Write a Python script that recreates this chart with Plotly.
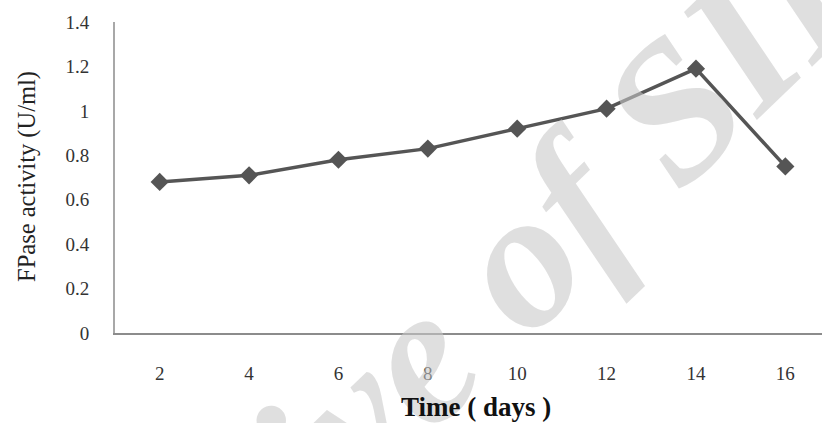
import plotly.graph_objects as go

days = ["2", "4", "6", "8", "10", "12", "14", "16"]
fpase_activity = [0.68, 0.71, 0.78, 0.83, 0.92, 1.01, 1.19, 0.75]
y_tick_values = [0, 0.2, 0.4, 0.6, 0.8, 1.0, 1.2, 1.4]
y_tick_labels = ["0", "0.2", "0.4", "0.6", "0.8", "1", "1.2", "1.4"]

serif = "Liberation Serif, Times New Roman, serif"

fig = go.Figure()
fig.add_trace(go.Scatter(
    x=days, y=fpase_activity, mode="lines+markers",
    line=dict(color="#555555", width=3.5),
    marker=dict(symbol="diamond", size=14, color="#555555"),
    showlegend=False, hoverinfo="skip",
))

fig.update_layout(
    width=822, height=423,
    margin=dict(l=115, r=0, t=22, b=90),
    paper_bgcolor="white", plot_bgcolor="white",
    xaxis=dict(
        type="category", range=[-0.5, 7.41],
        showline=True, linecolor="#8c8c8c", linewidth=1.5,
        showgrid=False, zeroline=False, ticks="",
        ticklabelstandoff=22,
        tickfont=dict(family=serif, size=19, color="#333333"),
    ),
    yaxis=dict(
        range=[0, 1.4], tickvals=y_tick_values, ticktext=y_tick_labels,
        showline=True, linecolor="#a8a8a8", linewidth=2,
        showgrid=False, zeroline=False, ticks="",
        ticklabelstandoff=20,
        tickfont=dict(family=serif, size=19, color="#333333"),
    ),
    annotations=[
        dict(text="<b><i>Archive of SID</i></b>", xref="paper", yref="paper",
             x=0.441, y=-0.045, textangle=-44, showarrow=False,
             xanchor="center", yanchor="middle",
             font=dict(family=serif, size=196, color="rgba(200,200,200,0.58)")),
        dict(text="FPase activity (U/ml)", xref="paper", yref="paper",
             x=-0.1245, y=0.505, textangle=-90, showarrow=False,
             xanchor="center", yanchor="middle",
             font=dict(family=serif, size=24.5, color="#222222")),
        dict(text="<b>Time ( days )</b>", xref="paper", yref="paper",
             x=0.511, y=-0.238, showarrow=False,
             xanchor="center", yanchor="middle",
             font=dict(family=serif, size=27, color="#111111")),
    ],
)

fig.write_html("out.html", config={"displayModeBar": False},
               post_script="document.body.style.margin='0';")
